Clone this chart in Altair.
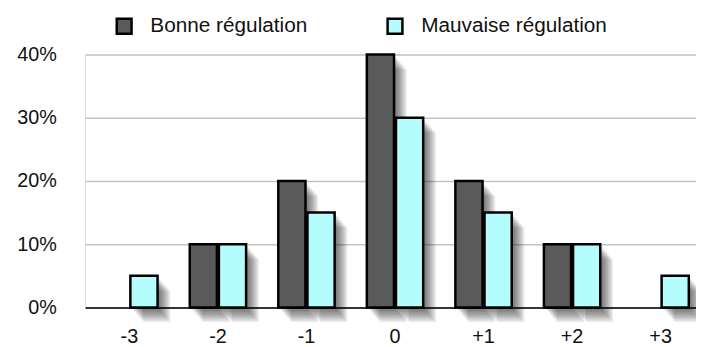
import altair as alt
import pandas as pd

categories = ["-3", "-2", "-1", "0", "+1", "+2", "+3"]
bonne = [0, 10, 20, 40, 20, 10, 0]
mauvaise = [5, 10, 15, 30, 15, 10, 5]
series_names = ["Bonne régulation", "Mauvaise régulation"]
colors = ["#5a5a5a", "#b4fdfc"]
y_ticks = [0, 0.1, 0.2, 0.3, 0.4]

rows = []
for c, b, m in zip(categories, bonne, mauvaise):
    rows.append({"cat": c, "series": series_names[0], "value": b / 100})
    rows.append({"cat": c, "series": series_names[1], "value": m / 100})
df = pd.DataFrame(rows)

FONT = "Liberation Sans"

x_enc = alt.X(
    "cat:N", sort=categories, title=None,
    scale=alt.Scale(paddingInner=0.34, paddingOuter=0.17, range=[0, 627]),
    axis=alt.Axis(labelAngle=0, ticks=False, domain=True, domainColor="#000000",
                  domainWidth=1.5, labelPadding=19, labelFontSize=20, labelFont=FONT,
                  labelColor="#111111", grid=False, zindex=1),
)
y_enc = alt.Y(
    "value:Q", title=None,
    scale=alt.Scale(domain=[0, 0.4], nice=False),
    axis=alt.Axis(values=y_ticks, format=".0%", ticks=False, domain=False,
                  labelPadding=29, labelFontSize=20, labelFont=FONT,
                  labelColor="#111111", gridColor="#c4c4c4", gridWidth=1.5),
)

BAR_W = 27.5
OFFS = [-14.75, 14.75]

layers = []
# soft drop shadows
shadow_steps = [(1.3 * k, 1.5 * k) for k in range(1, 11)]
for s, off in zip(series_names, OFFS):
    for dx, dy in shadow_steps:
        layers.append(
            alt.Chart(df)
            .transform_filter(f"datum.value > 0 && datum.series == '{s}'")
            .mark_bar(width=BAR_W, xOffset=off + dx, yOffset=dy, color="#000000", opacity=0.07)
            .encode(x=x_enc, y=y_enc)
        )
# bars
for s, off in zip(series_names, OFFS):
    layers.append(
        alt.Chart(df)
        .transform_filter(f"datum.value > 0 && datum.series == '{s}'")
        .mark_bar(width=BAR_W, xOffset=off, stroke="#000000", strokeWidth=2.5, opacity=1)
        .encode(
            x=x_enc, y=y_enc,
            color=alt.Color(
                "series:N",
                scale=alt.Scale(domain=series_names, range=colors),
                legend=alt.Legend(
                    title=None, orient="none", legendX=29, legendY=-39,
                    direction="horizontal", columns=2, columnPadding=76,
                    symbolType="square", symbolSize=225, symbolStrokeColor="#000000",
                    symbolStrokeWidth=2.5, symbolOpacity=1, labelFontSize=21,
                    labelFont=FONT, labelColor="#111111", labelOffset=16,
                    labelLimit=400, padding=0,
                ),
            ),
        )
    )

chart = (
    alt.layer(*layers)
    .properties(
        width=618, height=256,
        autosize=alt.AutoSizeParams(type="none"),
        padding={"left": 78, "top": 45, "right": 0, "bottom": 38},
    )
    .configure_view(stroke=None)
    .configure(background="#ffffff")
)

chart.save("out.html", embed_options={"renderer": "svg", "actions": False})
